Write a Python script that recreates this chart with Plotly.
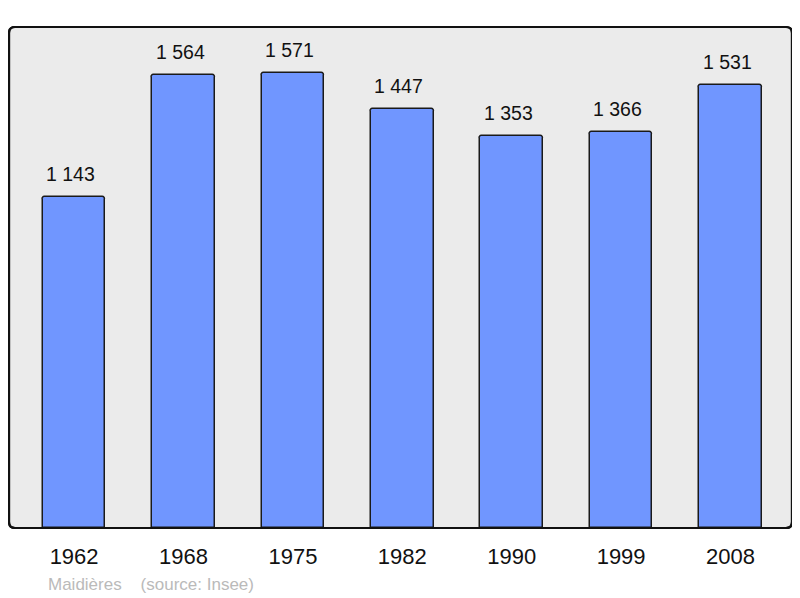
import plotly.graph_objects as go

years = ["1962", "1968", "1975", "1982", "1990", "1999", "2008"]
population = [1143, 1564, 1571, 1447, 1353, 1366, 1531]
labels = ["1 143", "1 564", "1 571", "1 447", "1 353", "1 366", "1 531"]

# the page body has an 8px margin, so the figure is drawn at (8, 8)
OFF = 8
W, H = 800 - OFF, 598 - OFF
left, right, top, bottom = 9 - OFF, 792 - OFF, 27 - OFF, 528 - OFF
ml, mr, mt, mb = left, W - right, top, H - bottom
pw, ph = W - ml - mr, H - mt - mb

xs = list(range(len(years)))
FONT = "Liberation Sans, Arial, sans-serif"

fig = go.Figure()
fig.add_trace(go.Bar(
    x=xs, y=population, width=0.572,
    marker=dict(color="#7096FF", line=dict(color="#1a1a1a", width=1.5), cornerradius=3),
    hoverinfo="skip",
))

for xi, v, t in zip(xs, population, labels):
    fig.add_annotation(x=xi, y=v, text=t, showarrow=False, yanchor="bottom",
                       yshift=10, xshift=-3.5,
                       font=dict(size=19.5, color="#111111", family=FONT))

# rounded border of plot area
r = 6
rx, ry = r / pw, r / ph
path = (f"M {rx},0 L {1-rx},0 Q 1,0 1,{ry} L 1,{1-ry} Q 1,1 {1-rx},1 "
        f"L {rx},1 Q 0,1 0,{1-ry} L 0,{ry} Q 0,0 {rx},0 Z")
fig.add_shape(type="path", path=path, xref="paper", yref="paper",
              fillcolor="#ebebeb", line=dict(color="#111111", width=2.2), layer="below")
fig.add_shape(type="path", path=path, xref="paper", yref="paper",
              fillcolor="rgba(0,0,0,0)", line=dict(color="#111111", width=2.2), layer="above")

# footer (page coords -> paper coords)
fx, fy = 46 - OFF, 584 - OFF
fig.add_annotation(x=(fx - ml) / pw, y=-(fy - (mt + ph)) / ph, xref="paper", yref="paper",
                   text="Maidières    (source: Insee)",
                   showarrow=False, xanchor="left", yanchor="middle",
                   font=dict(size=17, color="#bababa", family=FONT))

fig.update_layout(
    width=W, height=H,
    margin=dict(l=ml, r=mr, t=mt, b=mb),
    paper_bgcolor="white", plot_bgcolor="rgba(0,0,0,0)",
    showlegend=False,
    bargap=0,
    font=dict(family=FONT),
    xaxis=dict(range=[-0.595, 6.562], tickmode="array", tickvals=xs, ticktext=years,
               showgrid=False, zeroline=False, showline=False, ticks="",
               tickfont=dict(size=22, color="#111111"), ticklabelstandoff=13),
    yaxis=dict(range=[0, 1730], showgrid=False, zeroline=False, showline=False,
               showticklabels=False, ticks=""),
)

fig.write_html("out.html")
